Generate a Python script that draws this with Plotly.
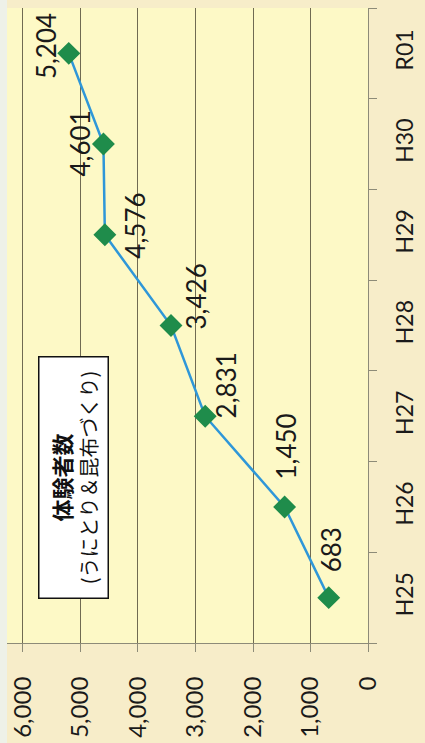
import plotly.graph_objects as go

# ---- data ----
categories = ["H25", "H26", "H27", "H28", "H29", "H30", "R01"]
visitors = [683, 1450, 2831, 3426, 4576, 4601, 5204]
value_ticks = [0, 1000, 2000, 3000, 4000, 5000, 6000]
legend_title = "体験者数"
legend_sub = "(うにとり＆昆布づくり)"

# ---- label placement (screen pixel offsets, style only) ----
label_dx = [2, 1, 21, 24, 30, -23, -22]
label_dy = [48, 60, 31, 29, 9, 1, 7]

W, H = 425, 743
ML, MR, MT, MB = 7, 57, 8, 100
PW = W - ML - MR
PH = H - MT - MB

PAPER = "#f7edc9"
PLOT = "#fdf9c6"
GRID = "#706b52"
AXIS = "#8d8b78"
NUMFONT = "Lato"

fig = go.Figure()
fig.add_trace(go.Scatter(
    x=visitors, y=categories, mode="lines+markers",
    line=dict(color="#2f97d8", width=2.5),
    marker=dict(symbol="diamond", size=16, color="#1f8c4b",
                line=dict(color="#1f8c4b", width=1.5)),
    hoverinfo="skip", showlegend=False,
))

annotations = []
for c, v, dx, dy in zip(categories, visitors, label_dx, label_dy):
    annotations.append(dict(
        x=v, y=c, xref="x", yref="y", text=f"{v:,}", showarrow=False,
        textangle=-90, xshift=dx, yshift=dy, xanchor="center", yanchor="middle",
        font=dict(family=NUMFONT, size=26, color="#1a1a1a"),
    ))

# legend-like box
bx0, bx1, by0, by1 = 38, 108, 357, 599
annotations.append(dict(
    x=((bx0 + bx1) / 2 - ML) / PW, y=1 - ((by0 + by1) / 2 - MT) / PH,
    xref="paper", yref="paper", showarrow=False, textangle=-90,
    xanchor="center", yanchor="middle",
    text=f"<b><span style='font-size:22px'>{legend_title}</span></b><br>{legend_sub}",
    font=dict(family="Noto Sans CJK JP", size=20, color="#111111"),
    bgcolor="#ffffff", bordercolor="#111111", borderwidth=1.5,
    width=by1 - by0 - 4, height=bx1 - bx0 - 4, align="center", valign="middle",
))

fig.update_layout(
    width=W, height=H,
    margin=dict(l=ML, r=MR, t=MT, b=MB, autoexpand=False),
    paper_bgcolor=PAPER, plot_bgcolor=PLOT,
    annotations=annotations,
    shapes=[dict(type="rect", xref="paper", yref="paper",
                 x0=-ML / PW, x1=0, y0=-MB / PH, y1=1 + MT / PH,
                 fillcolor="#eef1e8", line=dict(width=0), layer="below")],
)
fig.update_xaxes(
    range=[6278, 0], tickvals=value_ticks, tickformat=",",
    tickangle=-90, ticks="outside", ticklen=8, tickcolor=AXIS,
    showline=True, linecolor=AXIS, linewidth=1.2,
    showgrid=True, gridcolor=GRID, gridwidth=1, zeroline=False,
    tickfont=dict(family=NUMFONT, size=24, color="#1a1a1a"),
    ticklabelstandoff=15, automargin=False,
)
fig.update_yaxes(
    type="category", categoryorder="array", categoryarray=categories,
    range=[-0.5, len(categories) - 0.5], side="right",
    tickangle=-90, ticks="outside", tickson="boundaries", ticklen=8,
    tickcolor=AXIS, showline=True, linecolor=AXIS, linewidth=1.2,
    showgrid=False, zeroline=False,
    tickfont=dict(family=NUMFONT, size=23, color="#1a1a1a"),
    ticklabelstandoff=16, automargin=False,
)

fig.write_html("out.html", config={"displayModeBar": False},
               post_script="document.body.style.margin='0';")
